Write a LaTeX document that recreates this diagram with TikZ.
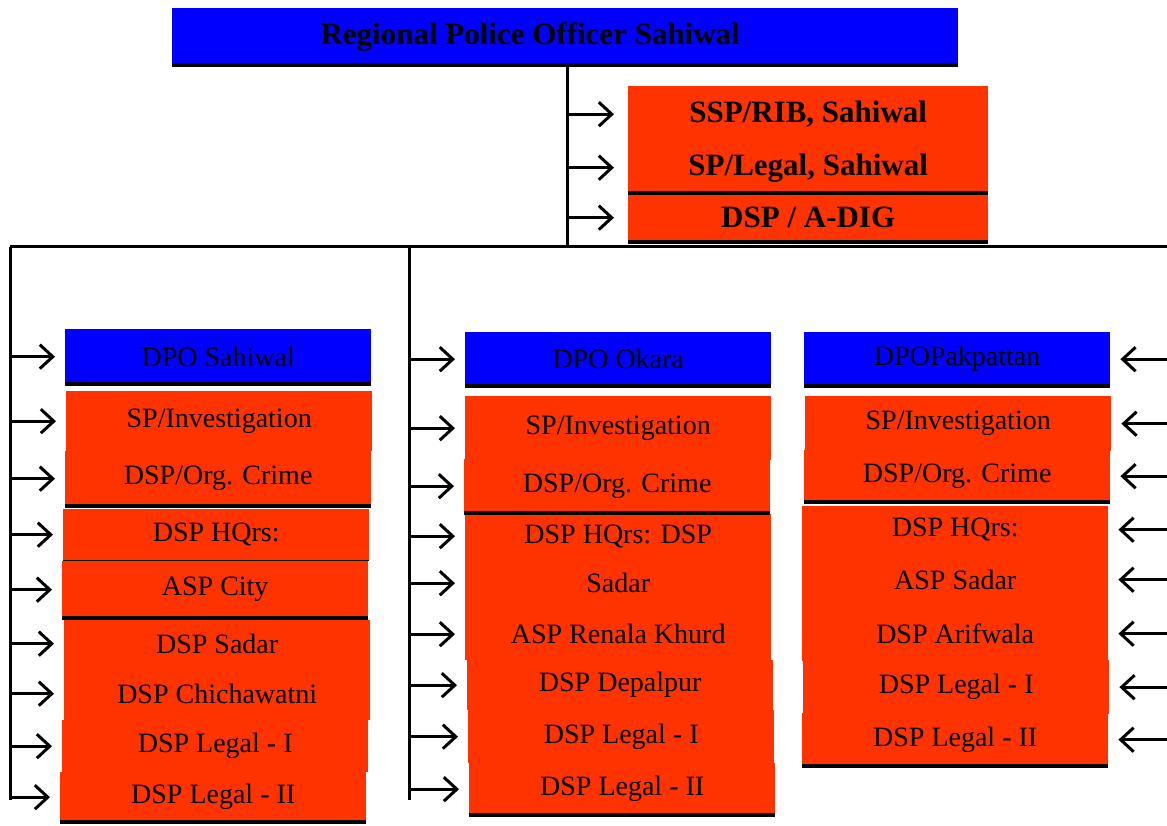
\documentclass[tikz,border=0pt]{standalone}
\usepackage{fontspec}
\setmainfont{Liberation Serif}
\usetikzlibrary{arrows.meta}
\definecolor{rpoblue}{RGB}{0,0,255}
\definecolor{rpored}{RGB}{255,51,0}

\begin{document}
\begin{tikzpicture}[x=1pt, y=-1pt,
    box/.style={rectangle, fill=rpored, inner sep=0pt, anchor=north west,
        minimum width=306pt, font=\fontsize{28}{30}\selectfont},
    headbox/.style={box, fill=rpoblue},
    boldbox/.style={box, minimum width=360pt, font=\fontsize{31}{33}\selectfont\bfseries},
    shad/.style={line width=4pt},
    trunk/.style={line width=3pt},
    arr/.style={line width=3pt, -{Straight Barb[length=13pt, width=24pt, line width=3pt]}, shorten >=10pt}]
    \useasboundingbox (0,0) rectangle (1167,826);

    % regional office on top
    \node[headbox, minimum width=786pt, minimum height=57pt, font=\fontsize{31}{33}\selectfont\bfseries]
        (rpo) at (172,8) {\hspace*{-70pt}Regional Police Officer Sahiwal};
    \draw[shad] (rpo.south west) -- (rpo.south east);

    % staff of the regional office
    \node[boldbox, minimum height=56pt] (rs1) at (628,86) {SSP/RIB, Sahiwal};
    \node[boldbox, minimum height=51pt] (rs2) at (628,142) {SP/Legal, Sahiwal};
    \node[boldbox, minimum height=49pt] (rs3) at (628,193) {DSP / A-DIG};
    \draw[shad] (rs2.south west) -- (rs2.south east);
    \draw[shad] (rs3.south west) -- (rs3.south east);

    % the trunk lines
    \coordinate (hub) at (567,247);
    \coordinate (tL) at (10,247);
    \coordinate (tM) at (409,247);
    \coordinate (tR) at (1167,247);
    \draw[trunk] (rpo.south -| hub) -- (hub);
    \draw[trunk] (tL) -- (tR);
    \draw[trunk] (tL) -- ++(0,553);
    \draw[trunk] (tM) -- ++(0,553);

    \foreach \i in {1,2,3}
        \draw[arr, shorten >=14pt] (hub |- rs\i) -- (rs\i.west);

    % DPO Sahiwal
    \node[headbox, minimum height=55pt] (ls0) at (65,329) {DPO Sahiwal};
    \node[box, minimum height=60pt] (ls1) at (66,391) {SP/Investigation};
    \node[box, minimum height=55pt] (ls2) at (65,451) {DSP/Org. Crime};
    \node[box, minimum height=51pt] (ls3) at (63,509) {DSP HQrs:};
    \node[box, minimum height=57pt] (ls4) at (62,561) {ASP City};
    \node[box, minimum height=47pt] (ls5) at (64,620) {DSP Sadar};
    \node[box, minimum height=53pt] (ls6) at (64,667) {DSP Chichawatni};
    \node[box, minimum height=52pt] (ls7) at (62,720) {DSP Legal - I};
    \node[box, minimum height=50pt] (ls8) at (60,772) {DSP Legal - II};
    \draw[shad] (ls0.south west) -- (ls0.south east);
    \draw[shad] (ls2.south west) -- (ls2.south east);
    \draw[line width=1pt] (ls3.south west) -- (ls3.south east);
    \draw[shad] (ls4.south west) -- (ls4.south east);
    \draw[shad] (ls8.south west) -- (ls8.south east);
    \foreach \i in {0,...,8}
        \draw[arr] (tL |- ls\i) -- (ls\i.west);

    % DPO Okara
    \node[headbox, minimum height=54pt] (mo0) at (465,332) {DPO Okara};
    \node[box, minimum height=64pt] (mo1) at (465,396) {SP/Investigation};
    \node[box, minimum height=54pt] (mo2) at (464,459) {DSP/Org. Crime};
    \node[box, minimum height=44pt] (mo3) at (465,514) {DSP HQrs: DSP};
    \node[box, minimum height=50pt] (mo4) at (465,558) {Sadar};
    \node[box, minimum height=52pt] (mo5) at (465,608) {ASP Renala Khurd};
    \node[box, minimum height=50pt] (mo6) at (467,660) {DSP Depalpur};
    \node[box, minimum height=53pt] (mo7) at (468,710) {DSP Legal - I};
    \node[box, minimum height=52pt] (mo8) at (469,763) {DSP Legal - II};
    \draw[shad] (mo0.south west) -- (mo0.south east);
    \draw[shad] (mo2.south west) -- (mo2.south east);
    \draw[shad] (mo8.south west) -- (mo8.south east);
    \foreach \i in {0,...,8}
        \draw[arr] (tM |- mo\i) -- (mo\i.west);

    % DPO Pakpattan
    \node[headbox, minimum height=54pt] (pk0) at (804,332) {DPOPakpattan};
    \node[box, minimum height=55pt] (pk1) at (805,396) {SP/Investigation};
    \node[box, minimum height=52pt] (pk2) at (804,450) {DSP/Org. Crime};
    \node[box, minimum height=47pt] (pk3) at (802,506) {DSP HQrs:};
    \node[box, minimum height=55pt] (pk4) at (802,552) {ASP Sadar};
    \node[box, minimum height=55pt] (pk5) at (802,606) {DSP Arifwala};
    \node[box, minimum height=54pt] (pk6) at (803,660) {DSP Legal - I};
    \node[box, minimum height=53pt] (pk7) at (802,713) {DSP Legal - II};
    \draw[shad] (pk0.south west) -- (pk0.south east);
    \draw[shad] (pk2.south west) -- (pk2.south east);
    \draw[shad] (pk7.south west) -- (pk7.south east);
    \foreach \i in {0,...,7}
        \draw[arr] (tR |- pk\i) -- (pk\i.east);
\end{tikzpicture}
\end{document}
